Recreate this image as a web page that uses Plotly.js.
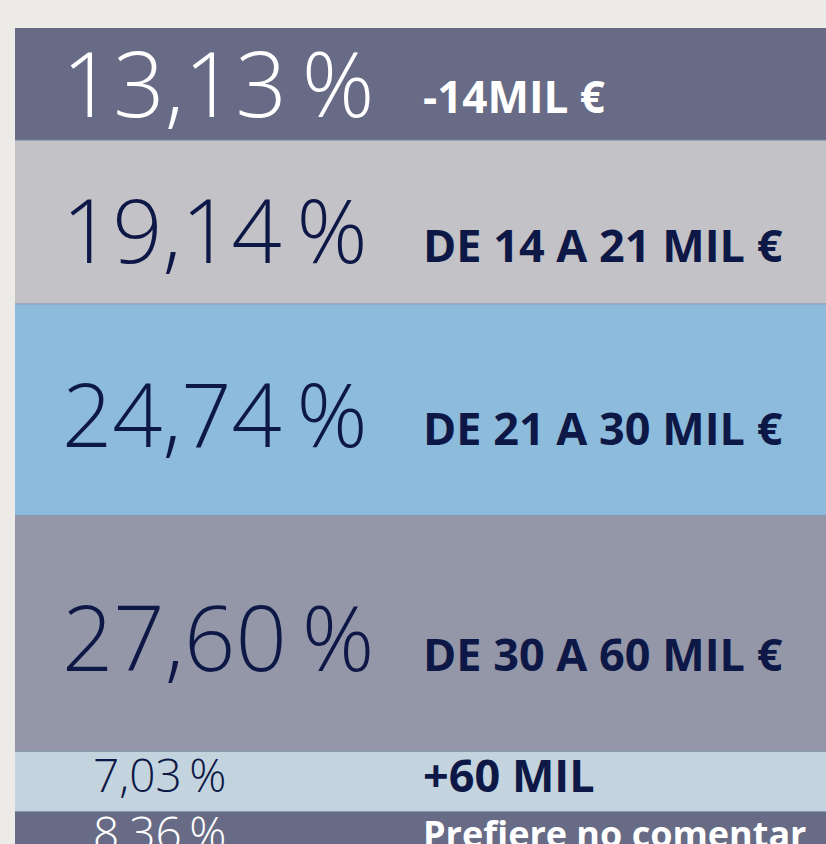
<!DOCTYPE html>
<html>
<head>
<meta charset="utf-8">
<script src="https://cdn.plot.ly/plotly-3.0.1.min.js"></script>
<style>
html,body{margin:0;padding:0;overflow:hidden;background:#ECEBE7;}
#chart{width:826px;height:883px;}
</style>
</head>
<body>
<div id="chart"></div>
<script>
// ---- data ----
const categories = ['-14MIL €', 'DE 14 A 21 MIL €', 'DE 21 A 30 MIL €', 'DE 30 A 60 MIL €', '+60 MIL', 'Prefiere no comentar'];
const shares = [13.13, 19.14, 24.74, 27.60, 7.03, 8.36];

// ---- styles ----
const bandColors = ['#676B85', '#C3C2C7', '#8DBBDB', '#9497A8', '#C3D4DE', '#676B85'];
const textColors = ['#FFFFFF', '#0E1847', '#0E1847', '#0E1847', '#0E1847', '#FFFFFF'];
const pctSizes = [90, 88, 88, 90, 46, 46];
const labelSizes = [44, 45, 45, 45, 45, 36];
const pctShift = [2, -7, -3, -3, 7, 15];
const labelShift = [-12, -22, -18, -20, 7, 14];

const traces = categories.map((c, i) => ({
  type: 'bar',
  x: ['total'],
  y: [shares[i]],
  name: c,
  width: 1,
  marker: {color: bandColors[i], line: {width: 0}},
  hoverinfo: 'skip'
}));

const annotations = [];
const shapes = [];
let cum = 0;
shares.forEach((v, i) => {
  const mid = cum + v / 2;
  cum += v;
  const big = i < 4;
  if (i < shares.length - 1) {
    shapes.push({type: 'line', xref: 'paper', yref: 'y', x0: 0, x1: 1, y0: cum, y1: cum,
                 line: {color: '#8797AF', width: 1}});
  }
  annotations.push({
    xref: 'paper', yref: 'y',
    x: big ? 0.056 : 0.2626, xanchor: big ? 'left' : 'right',
    y: mid, yanchor: 'middle', yshift: pctShift[i],
    text: v.toFixed(2).replace('.', ',') + '\u2009%',
    showarrow: false,
    font: {family: 'Open Sans', weight: 300, size: pctSizes[i], color: textColors[i]}
  });
  annotations.push({
    xref: 'paper', yref: 'y',
    x: 0.5, xanchor: 'left',
    y: mid, yanchor: 'middle', yshift: labelShift[i],
    text: categories[i],
    showarrow: false,
    font: {family: 'Open Sans', weight: 700, size: labelSizes[i], color: textColors[i]}
  });
});

const layout = {
  width: 826, height: 883,
  margin: {l: 15, r: 0, t: 28, b: 0, pad: 0},
  paper_bgcolor: '#ECEBE7', plot_bgcolor: '#ECEBE7',
  barmode: 'stack', bargap: 0,
  showlegend: false,
  xaxis: {visible: false, range: [-0.5, 0.5], fixedrange: true},
  yaxis: {visible: false, range: [100, 0], fixedrange: true},
  shapes: shapes,
  annotations: annotations
};

Plotly.newPlot('chart', traces, layout, {staticPlot: true, displayModeBar: false});
</script>
</body>
</html>
